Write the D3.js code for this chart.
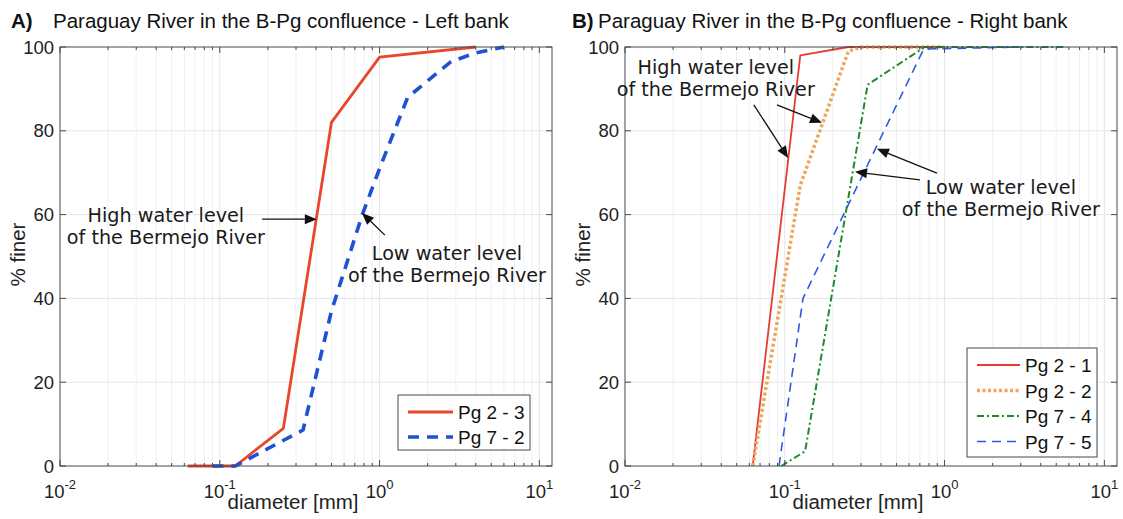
<!DOCTYPE html>
<html>
<head>
<meta charset="utf-8">
<script src="https://cdn.jsdelivr.net/npm/d3@7"></script>
<style>
  body { margin: 0; background: #fff; }
  svg { display: block; }
</style>
</head>
<body>
<svg id="fig" width="1123" height="519"></svg>
<script>
// ---- data -------------------------------------------------------------
// decade tick exponents on the diameter axis, percent ticks on the y axis
const xTickExps = [-2, -1, 0, 1];
const yTicks = [0, 20, 40, 60, 80, 100];

// panel A: left bank samples, [diameter mm, % finer]
const pg23 = [[0.063, 0], [0.125, 0], [0.25, 9], [0.5, 82], [1, 97.6], [4, 100]];
const pg72 = [[0.09, 0], [0.125, 0], [0.332, 8.6], [0.5, 37], [0.78, 60], [1, 71], [1.5, 88], [2.8, 96.5], [4, 98.6], [6, 100]];

// panel B: right bank samples
const pg21 = [[0.063, 0], [0.125, 98], [0.25, 100], [1, 100]];
const pg22 = [[0.063, 0], [0.125, 67], [0.25, 99], [0.3, 100], [1, 100]];
const pg74 = [[0.095, 0], [0.134, 3.5], [0.33, 91], [0.75, 100], [5.8, 100]];
const pg75 = [[0.092, 0], [0.13, 40], [0.74, 99.5], [3, 100]];

const titlesA = ["A)", "Paraguay River in the B-Pg confluence - Left bank"];
const titlesB = ["B)", "Paraguay River in the B-Pg confluence - Right bank"];
const legendA = ["Pg 2 - 3", "Pg 7 - 2"];
const legendB = ["Pg 2 - 1", "Pg 2 - 2", "Pg 7 - 4", "Pg 7 - 5"];
const highText = ["High water level", "of the Bermejo River"];
const lowText = ["Low water level", "of the Bermejo River"];

// annotations in data units: text anchor [d, p] and arrows {from, to}
const notesA = [
  { lines: highText, at: [0.046, 58.3] },
  { lines: lowText, at: [2.64, 49.2] }
];
const arrowsA = [
  { from: [0.184, 58.9], to: [0.405, 58.9] },
  { from: [1.08, 55.1], to: [0.776, 60.4] }
];
const notesB = [
  { lines: highText, at: [0.037, 93.6] },
  { lines: lowText, at: [2.25, 65.0] }
];
const arrowsB = [
  { from: [0.064, 86.2], to: [0.105, 73.5] },
  { from: [0.0893, 86.2], to: [0.171, 81.9] },
  { from: [0.896, 69.9], to: [0.377, 75.7] },
  { from: [0.701, 68.3], to: [0.275, 70.2] }
];

// ---- styles -----------------------------------------------------------
const AXIS = "#3f4a50";
const GRID = "#e3e5e8";
const MINOR = "#eef0f4";
const TICK_FONT = "'Liberation Sans', Arial, sans-serif";
const NOTE_FONT = "'DejaVu Sans', Verdana, sans-serif";

const svg = d3.select("#fig");

function panel(opt) {
  const { left, right, top, bottom } = opt;
  const x = d3.scaleLog().domain([0.01, 12]).range([left, right]);
  const y = d3.scaleLinear().domain([0, 100]).range([bottom, top]);
  const g = svg.append("g");

  // minor vertical grid
  const minors = [];
  for (let e = -2; e <= 1; e++) {
    for (let k = 2; k <= 9; k++) {
      const v = k * Math.pow(10, e);
      if (v < 12) minors.push(v);
    }
  }
  g.selectAll(".mg").data(minors).join("line")
    .attr("x1", d => x(d)).attr("x2", d => x(d))
    .attr("y1", top).attr("y2", bottom)
    .attr("stroke", MINOR).attr("stroke-width", 1);
  // major grid
  const majors = xTickExps.map(e => Math.pow(10, e)).filter(v => v > 0.01 && v < 12);
  g.selectAll(".Mg").data(majors).join("line")
    .attr("x1", d => x(d)).attr("x2", d => x(d))
    .attr("y1", top).attr("y2", bottom)
    .attr("stroke", GRID).attr("stroke-width", 1);
  g.selectAll(".hg").data(yTicks.filter(t => t > 0 && t < 100)).join("line")
    .attr("x1", left).attr("x2", right)
    .attr("y1", d => y(d)).attr("y2", d => y(d))
    .attr("stroke", GRID).attr("stroke-width", 1);

  // series
  const line = d3.line().x(d => x(d[0])).y(d => y(d[1]));
  opt.series.forEach(s => {
    g.append("path").datum(s.data)
      .attr("d", line)
      .attr("fill", "none")
      .attr("stroke", s.color)
      .attr("stroke-width", s.width)
      .attr("stroke-dasharray", s.dash || null)
      .attr("stroke-linejoin", "round");
  });

  // frame and ticks (inside, all four sides)
  g.append("rect").attr("x", left).attr("y", top)
    .attr("width", right - left).attr("height", bottom - top)
    .attr("fill", "none").attr("stroke", AXIS).attr("stroke-width", 1);
  const majorX = xTickExps.map(e => Math.pow(10, e));
  [[bottom, -1], [top, 1]].forEach(([yy, dir]) => {
    g.selectAll(null).data(majorX).join("line")
      .attr("x1", d => x(d)).attr("x2", d => x(d))
      .attr("y1", yy).attr("y2", yy + dir * 6)
      .attr("stroke", AXIS);
    g.selectAll(null).data(minors).join("line")
      .attr("x1", d => x(d)).attr("x2", d => x(d))
      .attr("y1", yy).attr("y2", yy + dir * 3)
      .attr("stroke", AXIS);
  });
  [[left, 1], [right, -1]].forEach(([xx, dir]) => {
    g.selectAll(null).data(yTicks).join("line")
      .attr("x1", xx).attr("x2", xx + dir * 6)
      .attr("y1", d => y(d)).attr("y2", d => y(d))
      .attr("stroke", AXIS);
  });

  // y tick labels
  g.selectAll(null).data(yTicks).join("text")
    .attr("x", left - 6).attr("y", d => y(d) + 6.5)
    .attr("text-anchor", "end")
    .attr("font-family", TICK_FONT).attr("font-size", 18.5)
    .attr("fill", "#222").text(d => d);

  // x tick labels: 10 with superscript exponent
  xTickExps.forEach(e => {
    const t = g.append("text")
      .attr("x", x(Math.pow(10, e))).attr("y", bottom + 32)
      .attr("text-anchor", "middle")
      .attr("font-family", TICK_FONT).attr("fill", "#222");
    t.append("tspan").attr("font-size", 18.5).text("10");
    t.append("tspan").attr("font-size", 13).attr("dy", -9).text(String(e));
  });

  // axis labels
  g.append("text")
    .attr("x", (left + right) / 2 - 13).attr("y", bottom + 43)
    .attr("text-anchor", "middle")
    .attr("font-family", TICK_FONT).attr("font-size", 20.5).attr("fill", "#222")
    .text("diameter [mm]");
  g.append("text")
    .attr("transform", `translate(${left - 35},${(top + bottom) / 2 - 2}) rotate(-90)`)
    .attr("text-anchor", "middle")
    .attr("font-family", TICK_FONT).attr("font-size", 20.5).attr("fill", "#222")
    .text("% finer");

  // title
  g.append("text").attr("x", opt.titleX).attr("y", 28)
    .attr("font-family", TICK_FONT).attr("font-size", 20.5).attr("font-weight", "bold")
    .attr("fill", "#111").text(opt.titles[0]);
  g.append("text").attr("x", opt.titleX + opt.titleGap).attr("y", 28)
    .attr("font-family", TICK_FONT).attr("font-size", 20.5)
    .attr("fill", "#111").text(opt.titles[1]);

  // annotations
  opt.notes.forEach(n => {
    const t = g.append("text")
      .attr("text-anchor", "middle")
      .attr("font-family", NOTE_FONT).attr("font-size", 19.2).attr("fill", "#1a1a1a");
    n.lines.forEach((ln, i) => {
      t.append("tspan").attr("x", x(n.at[0])).attr("y", y(n.at[1]) + i * 22.5).text(ln);
    });
  });
  opt.arrows.forEach(a => {
    const x1 = x(a.from[0]), y1 = y(a.from[1]);
    const x2 = x(a.to[0]), y2 = y(a.to[1]);
    const ang = Math.atan2(y2 - y1, x2 - x1);
    const L = 12, W = 5;
    const bx = x2 - L * Math.cos(ang), by = y2 - L * Math.sin(ang);
    g.append("line").attr("x1", x1).attr("y1", y1).attr("x2", bx).attr("y2", by)
      .attr("stroke", "#111").attr("stroke-width", 1.3);
    const px = -Math.sin(ang) * W, py = Math.cos(ang) * W;
    g.append("path")
      .attr("d", `M${x2},${y2}L${bx + px},${by + py}L${bx - px},${by - py}Z`)
      .attr("fill", "#111");
  });

  // legend
  const lg = opt.legend;
  g.append("rect").attr("x", lg.x).attr("y", lg.y)
    .attr("width", lg.w).attr("height", lg.h)
    .attr("fill", "#fff").attr("stroke", AXIS).attr("stroke-width", 1);
  opt.series.forEach((s, i) => {
    const yy = lg.y + lg.first + i * lg.step;
    g.append("line").attr("x1", lg.x + 10).attr("x2", lg.x + 10 + lg.len)
      .attr("y1", yy).attr("y2", yy)
      .attr("stroke", s.color).attr("stroke-width", s.width)
      .attr("stroke-dasharray", s.dash || null);
    g.append("text").attr("x", lg.x + 15 + lg.len).attr("y", yy + 7)
      .attr("font-family", TICK_FONT).attr("font-size", 19).attr("fill", "#111")
      .text(lg.labels[i]);
  });
}

panel({
  left: 60, right: 552, top: 47, bottom: 466,
  titleX: 11, titleGap: 42, titles: titlesA,
  series: [
    { data: pg23, color: "#e8472c", width: 2.8 },
    { data: pg72, color: "#1f52d2", width: 3.6, dash: "11,8" }
  ],
  notes: notesA, arrows: arrowsA,
  legend: { x: 398, y: 395, w: 132, h: 55, first: 17, step: 25, len: 45, labels: legendA }
});

panel({
  left: 625, right: 1117, top: 47, bottom: 466,
  titleX: 572, titleGap: 26, titles: titlesB,
  series: [
    { data: pg21, color: "#e63d33", width: 1.8 },
    { data: pg22, color: "#eea65c", width: 3.5, dash: "3,2.5" },
    { data: pg74, color: "#1e8a2c", width: 2, dash: "7,3,2,3" },
    { data: pg75, color: "#3157e0", width: 1.6, dash: "9,6" }
  ],
  notes: notesB, arrows: arrowsB,
  legend: { x: 967, y: 348, w: 130, h: 109, first: 17, step: 25.5, len: 43, labels: legendB }
});
</script>
</body>
</html>
